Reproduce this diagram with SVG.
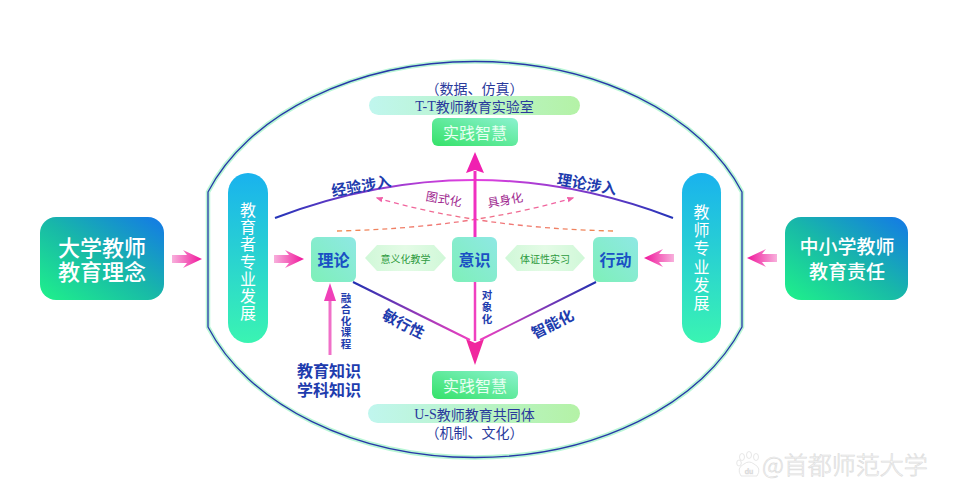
<svg xmlns="http://www.w3.org/2000/svg" width="955" height="500" viewBox="0 0 955 500">
<defs>
<style>
text{font-family:"Noto Sans CJK SC","Liberation Sans",sans-serif;}
.serif{font-family:"Liberation Serif","Noto Sans CJK SC",serif;}
.cjk{font-family:"Noto Sans CJK SC",sans-serif;}
.big{fill:#ffffff;font-weight:500;text-anchor:middle;dominant-baseline:central;}
.pill{fill:#ffffff;font-size:16px;writing-mode:vertical-rl;}
.node{font-size:16px;font-weight:700;fill:#1a50c4;text-anchor:middle;dominant-baseline:central;}
.blue{fill:#1e3cae;font-weight:700;text-anchor:middle;dominant-baseline:central;}
.band{fill:#2a3a9c;font-size:14px;text-anchor:middle;dominant-baseline:central;}
.wis{fill:#e8fff2;font-size:16px;text-anchor:middle;dominant-baseline:central;}
.hexT{fill:#2e9a3e;font-size:10px;text-anchor:middle;dominant-baseline:central;}
.mag{fill:#a02890;font-size:12px;text-anchor:middle;dominant-baseline:central;}
.v11{fill:#1e3cae;font-weight:700;font-size:10.5px;writing-mode:vertical-rl;}
</style>
<linearGradient id="gBig" x1="0" y1="1" x2="1" y2="0">
<stop offset="0" stop-color="#1ff28a"/><stop offset="0.5" stop-color="#18b8a8"/><stop offset="1" stop-color="#1478e8"/>
</linearGradient>
<linearGradient id="gPill" x1="0" y1="0" x2="0" y2="1">
<stop offset="0" stop-color="#19b2ee"/><stop offset="1" stop-color="#3af4b2"/>
</linearGradient>
<linearGradient id="gNode" x1="0" y1="1" x2="1" y2="0">
<stop offset="0" stop-color="#7ef0b8"/><stop offset="1" stop-color="#8ee8e4"/>
</linearGradient>
<linearGradient id="gWis" x1="0" y1="1" x2="1" y2="0">
<stop offset="0" stop-color="#34e268"/><stop offset="1" stop-color="#8cf2d0"/>
</linearGradient>
<linearGradient id="gBand" x1="0" y1="0" x2="1" y2="0">
<stop offset="0" stop-color="#c0f6ee"/><stop offset="1" stop-color="#b4f2a6"/>
</linearGradient>
<linearGradient id="gHex" x1="0" y1="0" x2="1" y2="0">
<stop offset="0" stop-color="#d0f8d8"/><stop offset="0.5" stop-color="#e4fbe6"/><stop offset="1" stop-color="#d0f8d8"/>
</linearGradient>
<linearGradient id="gArrow" x1="0" y1="0" x2="1" y2="0">
<stop offset="0" stop-color="#f8b0dc"/><stop offset="1" stop-color="#f0149a"/>
</linearGradient>
<linearGradient id="gArc" gradientUnits="userSpaceOnUse" x1="275" y1="0" x2="673" y2="0">
<stop offset="0" stop-color="#2434b8"/><stop offset="0.5" stop-color="#e840e0"/><stop offset="1" stop-color="#2434b8"/>
</linearGradient>
<linearGradient id="gL" gradientUnits="userSpaceOnUse" x1="353" y1="282" x2="470" y2="340">
<stop offset="0" stop-color="#2030b0"/><stop offset="1" stop-color="#f040c0"/>
</linearGradient>
<linearGradient id="gR" gradientUnits="userSpaceOnUse" x1="596" y1="282" x2="480" y2="340">
<stop offset="0" stop-color="#2030b0"/><stop offset="1" stop-color="#f040c0"/>
</linearGradient>
<linearGradient id="gD1" gradientUnits="userSpaceOnUse" x1="337" y1="231" x2="573" y2="198">
<stop offset="0" stop-color="#f08a50"/><stop offset="1" stop-color="#f060a8"/>
</linearGradient>
<linearGradient id="gD2" gradientUnits="userSpaceOnUse" x1="613" y1="231" x2="377" y2="198">
<stop offset="0" stop-color="#f08a50"/><stop offset="1" stop-color="#f060a8"/>
</linearGradient>
<marker id="mDash" viewBox="0 0 10 10" refX="8" refY="5" markerWidth="7" markerHeight="7" orient="auto" markerUnits="userSpaceOnUse">
<path d="M0,1 L10,5 L0,9 Z" fill="#f060a8"/>
</marker>
<path id="fatArrow" d="M0,-4 L15,-4 L11,-9 L30,0 L11,9 L15,4 L0,4 Z" fill="url(#gArrow)"/>
</defs>
<rect width="955" height="500" fill="#ffffff"/>

<g id="frame">
<path d="M208,192 A284 198 0 0 1 742,192 L742,327 A284 198 0 0 1 208,327 Z" fill="none" stroke="#b8f6d6" stroke-width="4.5"/>
<path d="M208,192 A284 198 0 0 1 742,192 L742,327 A284 198 0 0 1 208,327 Z" fill="none" stroke="#2838a8" stroke-width="1.3"/>
</g>

<g id="connectors">
<path d="M275,218 Q474,142 673,218" fill="none" stroke="url(#gArc)" stroke-width="2"/>
<path d="M337,231 Q470,228 573,198" fill="none" stroke="url(#gD1)" stroke-width="1.3" stroke-dasharray="5,4" marker-end="url(#mDash)"/>
<path d="M613,231 Q480,228 377,198" fill="none" stroke="url(#gD2)" stroke-width="1.3" stroke-dasharray="5,4" marker-end="url(#mDash)"/>
<line x1="475" y1="237" x2="475" y2="171" stroke="#f030c0" stroke-width="3"/>
<path d="M466,173 L475,152 L484,173 L475,170 Z" fill="#f020b0"/>
<line x1="475" y1="282" x2="475" y2="341" stroke="#f040c0" stroke-width="2.5"/>
<path d="M466,339 L475,365 L484,339 L475,343 Z" fill="#f0289e"/>
<line x1="353" y1="282" x2="470" y2="340" stroke="url(#gL)" stroke-width="2"/>
<line x1="596" y1="282" x2="480" y2="340" stroke="url(#gR)" stroke-width="2"/>
<line x1="330" y1="355" x2="330" y2="298" stroke="#f070c8" stroke-width="3"/>
<path d="M324,301 L330,283 L336,301 Z" fill="#f040b8"/>
<use href="#fatArrow" transform="translate(172,259)"/>
<use href="#fatArrow" transform="translate(274,259)"/>
<use href="#fatArrow" transform="translate(777,258) scale(-1,1)"/>
<use href="#fatArrow" transform="translate(674,258) scale(-1,1)"/>
</g>

<g id="labels">
<text class="blue" font-size="15" transform="translate(361,185) rotate(-10)">经验涉入</text>
<text class="blue" font-size="15" transform="translate(587,183) rotate(10)">理论涉入</text>
<text class="mag" transform="translate(444,198) rotate(10)">图式化</text>
<text class="mag" transform="translate(505,199) rotate(-10)">具身化</text>
<text class="blue" font-size="15" transform="translate(404,323) rotate(27)">敏行性</text>
<text class="blue" font-size="15" transform="translate(552,323) rotate(-27)">智能化</text>
<text class="v11" x="487" y="289.75" letter-spacing="1.5">对象化</text>
<text class="v11" x="346" y="292.75" letter-spacing="1">融合化课程</text>
<text class="blue" font-size="16" x="329" y="370">教育知识<tspan x="329" dy="19">学科知识</tspan></text>
</g>

<g id="node-univ">
<rect x="40" y="217" width="124" height="83" rx="16" fill="url(#gBig)"/>
<text class="big" font-size="22" x="102" y="246">大学教师<tspan x="102" dy="24">教育理念</tspan></text>
</g>

<g id="node-school">
<rect x="785" y="217" width="123" height="83" rx="16" fill="url(#gBig)"/>
<text class="big" font-size="19" x="847" y="245">中小学教师<tspan x="847" dy="25">教育责任</tspan></text>
</g>

<g id="pill-left">
<rect x="228" y="173" width="40" height="170" rx="20" fill="url(#gPill)"/>
<text class="pill" x="248" y="202" letter-spacing="1.2">教育者专业发展</text>
</g>

<g id="pill-right">
<rect x="682" y="173" width="39" height="170" rx="19.5" fill="url(#gPill)"/>
<text class="pill" x="701.5" y="204" letter-spacing="2.2">教师专业发展</text>
</g>

<g id="node-lilun">
<rect x="311" y="237" width="45" height="45" rx="6" fill="url(#gNode)"/>
<text class="node" x="333.5" y="259">理论</text>
</g>
<g id="node-yishi">
<rect x="452" y="237" width="45" height="45" rx="6" fill="url(#gNode)"/>
<text class="node" x="474.5" y="259">意识</text>
</g>
<g id="node-xingdong">
<rect x="593" y="237" width="45" height="45" rx="6" fill="url(#gNode)"/>
<text class="node" x="615.5" y="259">行动</text>
</g>

<g id="hex-left">
<path d="M365,258 L377,245 L434,245 L446,258 L434,271 L377,271 Z" fill="url(#gHex)"/>
<text class="hexT" x="405.5" y="258">意义化教学</text>
</g>
<g id="hex-right">
<path d="M505,258 L517,245 L573,245 L585,258 L573,271 L517,271 Z" fill="url(#gHex)"/>
<text class="hexT" x="545" y="258">体证性实习</text>
</g>

<g id="top-lab">
<rect x="369" y="96" width="211" height="19" rx="9.5" fill="url(#gBand)"/>
<text class="band" x="474.5" y="88">（数据、仿真）<tspan x="474.5" dy="17.5" class="serif">T-T</tspan><tspan class="cjk">教师教育实验室</tspan></text>
</g>
<g id="top-wisdom">
<rect x="432" y="118" width="86" height="28" rx="6" fill="url(#gWis)"/>
<text class="wis" x="475" y="132">实践智慧</text>
</g>

<g id="bottom-wisdom">
<rect x="432" y="371" width="86" height="28" rx="6" fill="url(#gWis)"/>
<text class="wis" x="475" y="385">实践智慧</text>
</g>
<g id="bottom-lab">
<rect x="368" y="404" width="212" height="19" rx="9.5" fill="url(#gBand)"/>
<text class="band" x="474.5" y="413.5"><tspan class="serif">U-S</tspan><tspan class="cjk">教师教育共同体</tspan><tspan x="474.5" dy="18.5">（机制、文化）</tspan></text>
</g>

<g id="watermark" fill="#ffffff" stroke="#dcdcdc" stroke-width="0.7">
<ellipse cx="742" cy="457" rx="2.5" ry="3.5"/>
<ellipse cx="749" cy="455" rx="2.5" ry="3.5"/>
<ellipse cx="756" cy="457" rx="2.5" ry="3.5"/>
<ellipse cx="739" cy="463" rx="2.3" ry="3"/>
<path d="M741,476 Q736,468 744,464 Q749,460 754,464 Q762,468 757,476 Z"/>
<text x="749" y="474" font-size="7" text-anchor="middle">du</text>
<text x="762" y="474" font-size="24" font-weight="300">@首都师范大学</text>
</g>
</svg>
